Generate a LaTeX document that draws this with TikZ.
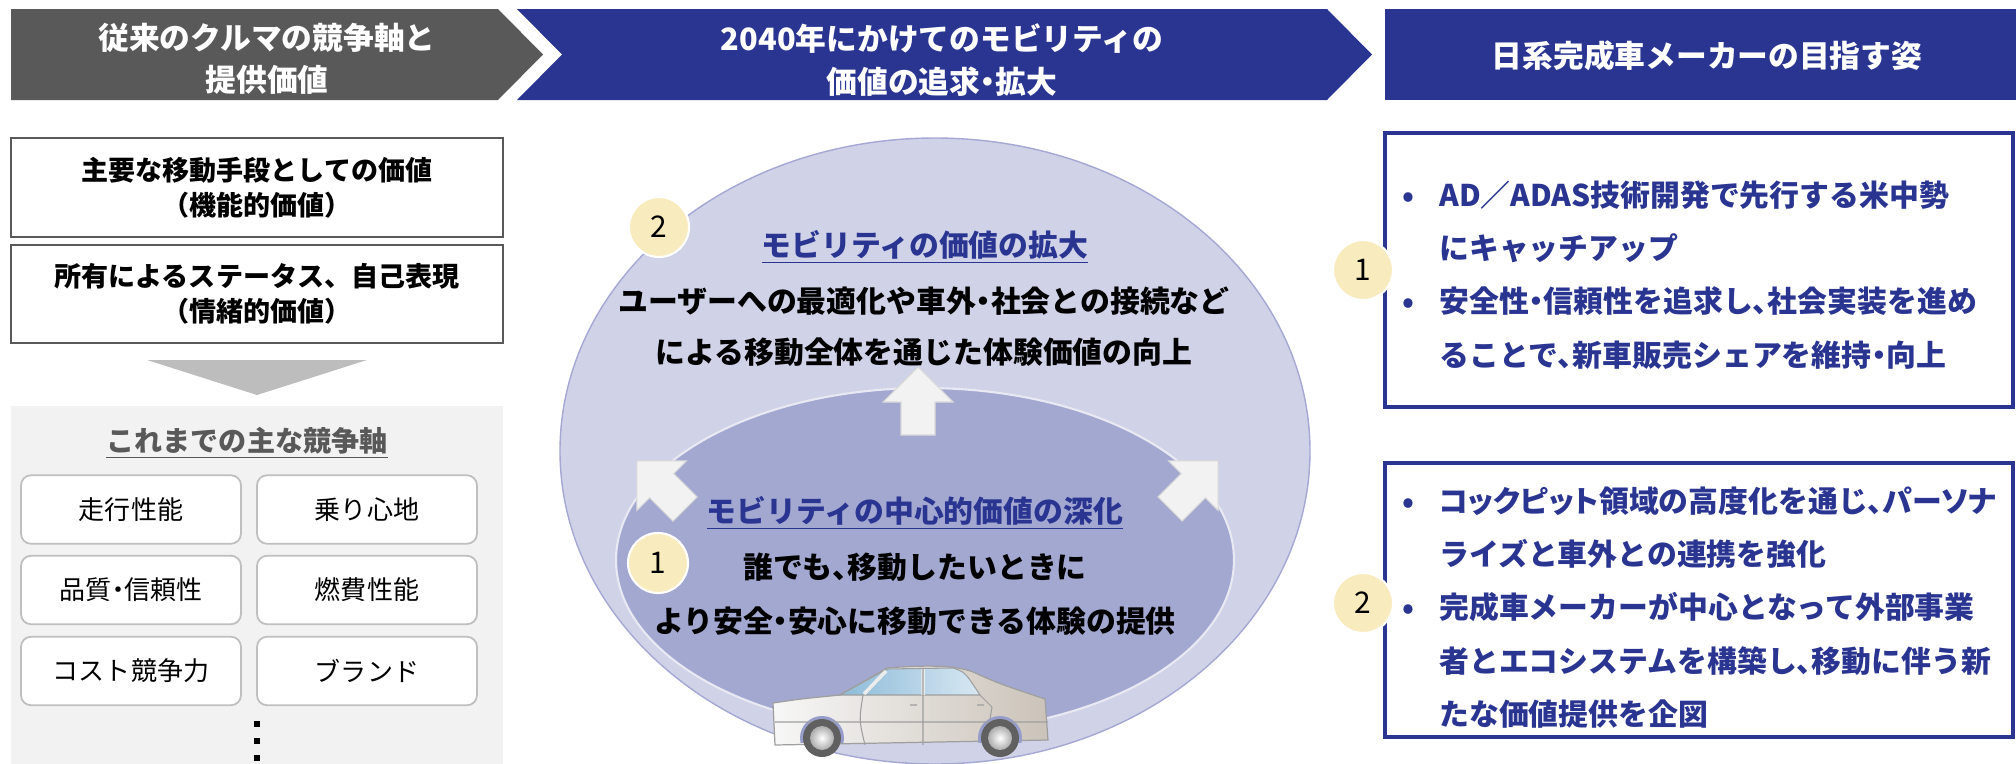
\documentclass[tikz,border=0pt]{standalone}
\usepackage{fontspec}
\setmainfont{Noto Sans CJK JP}
\usepackage{tikz}
\usetikzlibrary{calc}
\definecolor{navy}{HTML}{2A3592}
\definecolor{slate}{HTML}{595959}
\definecolor{lavender}{HTML}{D0D2E7}
\definecolor{lavenderedge}{HTML}{A4A8D3}
\definecolor{lavenderdark}{HTML}{A3A8D0}
\definecolor{badgecream}{HTML}{F8EBBD}
\definecolor{panelgrey}{HTML}{F2F2F2}
\definecolor{chipline}{HTML}{BFBFBF}
\definecolor{wedgegrey}{HTML}{BDBDBD}
\definecolor{carbeige}{HTML}{CBC3B9}
\definecolor{carglass}{HTML}{8DBBD9}
\newcommand{\itembul}{\makebox[0.74cm][l]{•}}
\newcommand{\itemgap}{\hspace*{0.74cm}}
\newcommand{\propkana}{\addfontfeatures{RawFeature=+palt}}

\begin{document}
\begin{tikzpicture}[x=0.02cm,y=-0.02cm,
 bandtext/.style={text=white,font=\fontsize{17.5}{24}\selectfont\bfseries,align=center},
 valuebox/.style={draw=slate,line width=1pt,fill=white,minimum width=9.84cm,minimum height=1.97cm,font=\fontsize{15.4}{20}\selectfont\bfseries,align=center},
 chip/.style={draw=chipline,line width=1pt,fill=white,rounded corners=0.2cm,minimum width=4.4cm,minimum height=1.37cm,font=\fontsize{14.8}{18}\selectfont},
 badge/.style={circle,fill=badgecream,draw=white,line width=1.2pt,minimum size=1.2cm,inner sep=0pt,font=\fontsize{17}{20}\selectfont},
 lead/.style={text=navy,font=\fontsize{17}{20}\selectfont\bfseries},
 body/.style={font=\fontsize{17}{29}\selectfont\bfseries,align=center},
 goalbox/.style={draw=navy,line width=2.2pt,fill=white},
 goaltext/.style={text=navy,font=\fontsize{17}{30.4}\selectfont\bfseries,align=left,anchor=west,inner sep=0pt},
 push/.pic={\draw[draw=black!15,fill=panelgrey,line width=0.6pt] (-17,0) -- (-17,-33) -- (-35,-33) -- (0,-68) -- (35,-33) -- (17,-33) -- (17,0) -- cycle;}]
\useasboundingbox (0,0) rectangle (2016,764);
\fill[slate] (11,9) -- (498,9) -- (543,54.5) -- (498,100) -- (11,100) -- cycle;
\fill[navy] (517,9) -- (1327,9) -- (1372,54.5) -- (1327,100) -- (517,100) -- (562,54.5) -- cycle;
\fill[navy] (1385,9) rectangle (2016,100);
\node[bandtext] (pasthead) at (267,59) {従来のクルマの競争軸と\\提供価値};
\node[bandtext] (futurehead) at (942,60) {2040年にかけてのモビリティの\\価値の追求{\propkana ・}拡大};
\node[bandtext] (goalhead) at (1707,56) {日系完成車メーカーの目指す姿};
\node[valuebox] (functional) at (257,187.5) {主要な移動手段としての価値\\（機能的価値）};
\node[valuebox] (emotional) at (257,294) {所有によるステータス、自己表現\\（情緒的価値）};
\fill[wedgegrey] (147,360) -- (367,360) -- (257,395) -- cycle;
\fill[panelgrey] (11,406) rectangle (503,764);
\node[text=slate,font=\fontsize{16}{20}\selectfont\bfseries] (pastaxes) at (247,443) {\underline{これまでの主な競争軸}};
\node[chip] (drive) at (131,509.5) {走行性能};
\node[chip] (ride) at (367,509.5) {乗り心地};
\node[chip] (quality) at (131,590) {品質{\propkana ・}信頼性};
\node[chip] (fuel) at (367,590) {燃費性能};
\node[chip] (cost) at (131,671) {コスト競争力};
\node[chip] (brand) at (367,671) {ブランド};
\foreach \y in {724,741,758}
  \fill (254,\y-3) rectangle +(6,6);
\draw[fill=lavender,draw=lavenderedge,line width=0.8pt] (935,451) ellipse [x radius=375,y radius=313];
\draw[fill=lavenderdark,draw=white!75!lavenderdark,line width=1.2pt] (925,560) ellipse [x radius=309,y radius=172];
\pic at (918,435) {push};
\pic[rotate=45] at (685,509) {push};
\pic[rotate=-45] at (1170,509) {push};
\node[badge] (outerno) at (659,227) {2};
\node[lead] (expandhead) at (925,247) {\underline{モビリティの価値の拡大}};
\node[body] (expandbody) at (924,327) {ユーザーへの最適化や車外{\propkana ・}社会との接続など\\による移動全体を通じた体験価値の向上};
\node[badge] (innerno) at (658,563) {1};
\node[lead] (deepenhead) at (915,513) {\underline{モビリティの中心的価値の深化}};
\node[body,font=\fontsize{17}{31}\selectfont\bfseries] (deepenbody) at (915,594) {誰でも{\propkana 、}移動したいときに\\より安全{\propkana ・}安心に移動できる体験の提供};
\shade[left color=white!94!gray,right color=carbeige,draw=gray!75,line width=0.7pt,line join=round]
  (775,745) -- (773,703) .. controls (800,699) .. (840,695) -- (887,668)
  .. controls (925,665) and (955,665) .. (973,672) .. controls (1000,684) .. (1045,699)
  -- (1048,740) -- cycle;
\begin{scope}
\clip (770,690) rectangle (1050,742);
\fill[lavenderdark!90!navy] (822,738) circle (22) (1000,738) circle (22);
\end{scope}
\shade[left color=carglass,right color=carglass!35!white,draw=gray!75,line width=0.6pt]
  (840,695) -- (887,669) -- (953,668) .. controls (965,672) .. (980,695) -- cycle;
\draw[white!85!gray,line width=2pt] (864,694) -- (886,671) (923,669) -- (923,695);
\draw[gray!75,line width=0.6pt] (863,695) .. controls (859,720) .. (865,745)
  (923,668) -- (923,745) (980,695) -- (992,707) -- (990,719)
  (775,722) -- (1048,722) (910,705) -- (917,705) (977,705) -- (984,705);
\foreach \cx in {822,1000}{
  \fill[gray!75!black] (\cx,738) circle (19);
  \shade[inner color=white,outer color=gray!65] (\cx,738) circle (12);
}
\draw[goalbox] (1385,133) rectangle (2013,407);
\draw[goalbox] (1385,463) rectangle (2013,737);
\node[goaltext] (catchup) at (1402,275) {\itembul AD／ADAS技術開発で先行する米中勢\\\itemgap にキャッチアップ\\\itembul 安全性{\propkana ・}信頼性を追求し{\propkana 、}社会実装を進め\\\itemgap ることで{\propkana 、}新車販売シェアを維持{\propkana ・}向上};
\node[goaltext] (ecosystem) at (1402,607.5) {\itembul {\propkana コックピット}領域の高度化を通じ{\propkana 、パーソナ}\\\itemgap ライズと車外との連携を強化\\\itembul 完成車メーカーが中心となって外部事業\\\itemgap 者とエコシステムを構築し{\propkana 、}移動に伴う新\\\itemgap たな価値提供を企図};
\node[badge] (goalone) at (1363,270) {1};
\node[badge] (goaltwo) at (1363,603) {2};
\end{tikzpicture}
\end{document}
